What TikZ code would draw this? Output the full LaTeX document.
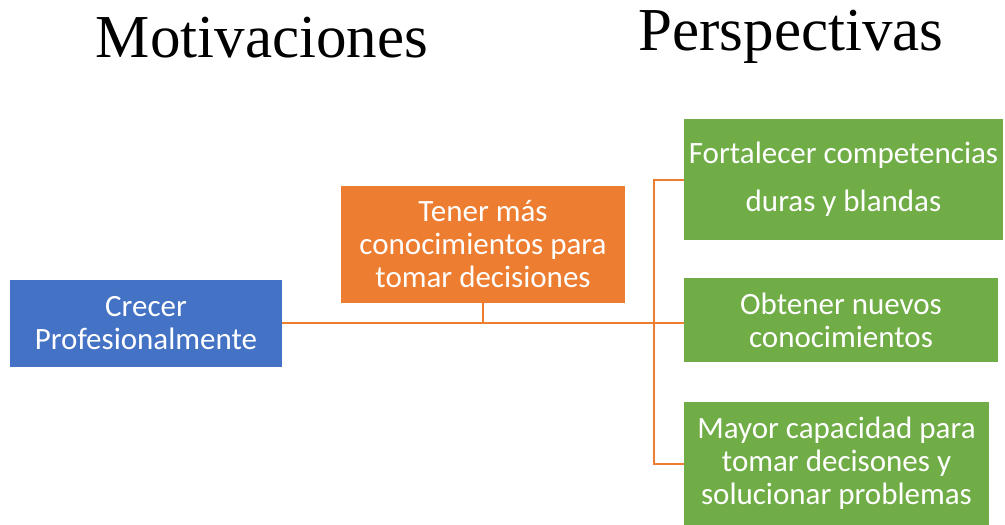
\documentclass[tikz,border=0pt]{standalone}
\usepackage{fontspec}
\setmainfont{Carlito}
\newfontfamily\titlefont{Liberation Serif}
\definecolor{cblue}{HTML}{4472C4}
\definecolor{corange}{HTML}{ED7D31}
\definecolor{cgreen}{HTML}{70AD47}
\tikzset{
  box/.style={rectangle, inner sep=0pt, text=white, align=center, font=\fontsize{31}{33}\selectfont},
  conn/.style={draw=corange, line width=2pt},
  ttl/.style={inner sep=0pt, font=\titlefont\fontsize{61}{61}\selectfont, anchor=base}
}
\begin{document}
\begin{tikzpicture}[x=1pt,y=-1pt]
\useasboundingbox (0,0) rectangle (1005,525);
\node[ttl] (t1) at (262,57) {Motivaciones};
\node[ttl] (t2) at (791,50) {Perspectivas};
\node[box, fill=cblue, minimum width=272pt, minimum height=87pt] (blue) at (146,323) {Crecer\\Profesionalmente};
\node[box, fill=corange, minimum width=284pt, minimum height=117pt] (orange) at (483,244.5) {Tener más\\conocimientos para\\tomar decisiones};
\node[box, fill=cgreen, minimum width=319pt, minimum height=121pt, font=\fontsize{31}{48}\selectfont] (g1) at (843.5,179.5) {Fortalecer competencias\\duras y blandas};
\node[box, fill=cgreen, minimum width=314pt, minimum height=84pt] (g2) at (841,320) {Obtener nuevos\\conocimientos};
\node[box, fill=cgreen, minimum width=305pt, minimum height=123pt] (g3) at (836.5,463.5) {Mayor capacidad para\\tomar decisones y\\solucionar problemas};
\coordinate (bus) at (654,323);
\draw[conn] (blue.east) -- (bus);
\draw[conn] (orange.south) -- (orange.south |- bus);
\draw[conn] (g1.west) -- (g1.west -| bus) -- (g3.west -| bus) -- (g3.west);
\draw[conn] (bus) -- (g2.west |- bus);
\end{tikzpicture}
\end{document}
